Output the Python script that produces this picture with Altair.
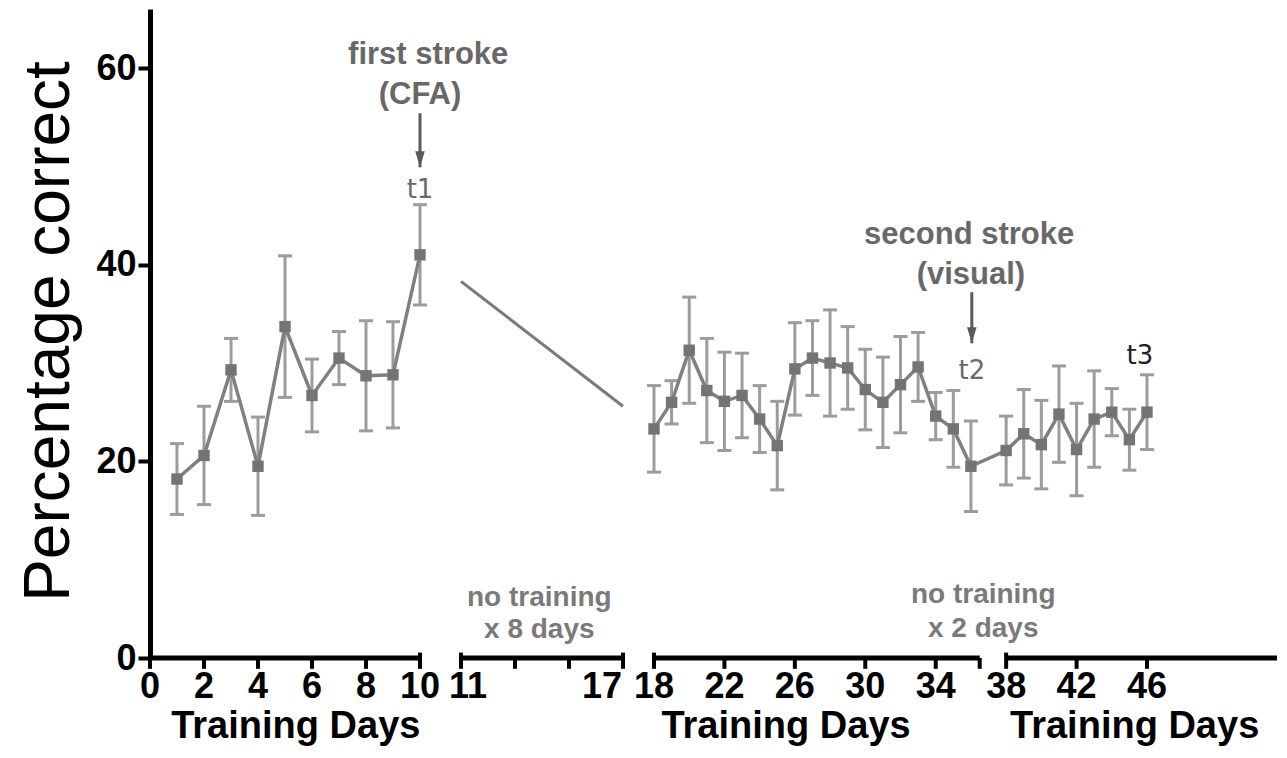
import altair as alt
import pandas as pd

# ---------------- data ----------------
days = [1, 2, 3, 4, 5, 6, 7, 8, 9, 10,
        18, 19, 20, 21, 22, 23, 24, 25, 26, 27, 28, 29, 30, 31, 32, 33, 34, 35, 36,
        38, 39, 40, 41, 42, 43, 44, 45, 46]
pct = [18.2, 20.6, 29.3, 19.5, 33.7, 26.7, 30.5, 28.7, 28.8, 41.0,
       23.3, 26.0, 31.3, 27.2, 26.1, 26.7, 24.3, 21.6, 29.4, 30.5, 30.0, 29.5, 27.3,
       26.0, 27.8, 29.6, 24.6, 23.3, 19.5,
       21.1, 22.8, 21.7, 24.8, 21.2, 24.3, 25.0, 22.2, 25.0]
sem = [3.6, 5.0, 3.2, 5.0, 7.2, 3.7, 2.7, 5.6, 5.4, 5.1,
       4.4, 2.2, 5.4, 5.3, 5.0, 4.3, 3.4, 4.5, 4.7, 3.8, 5.4, 4.2, 4.1,
       4.6, 4.9, 3.5, 2.4, 3.9, 4.6,
       3.5, 4.5, 4.5, 4.9, 4.7, 4.9, 2.4, 3.1, 3.8]

# decorative trend line across the 8-day break
gap_days = [11, 17]
gap_pct = [38.3, 25.6]

# broken x axis
seg_start = [0, 11, 18]
seg_end = [10, 17, 36.5]
last_seg_start = 38
tick_days = [0, 2, 4, 6, 8, 10, 11, 13, 15, 17, 18, 22, 26, 30, 34, 36.5, 38, 42, 46]
cap_days = [10, 11, 17, 18, 38]
label_days = [0, 2, 4, 6, 8, 10, 18, 22, 26, 30, 34, 38, 42, 46]
label_11 = [11]
label_17 = [17]
title_days = [5.4, 25.5, 45.3]
title_text = ["Training Days", "Training Days", "Training Days"]

# annotations
stroke_text = ["first stroke", "(CFA)", "second stroke", "(visual)"]
stroke_day = [10.2, 10.0, 35.9, 36.0]
stroke_pct = [61.3, 57.3, 43.0, 39.0]
note_text = ["no training", "x 8 days", "no training", "x 2 days"]
note_day = [13.9, 13.9, 36.7, 36.7]
note_pct = [6.1, 2.8, 6.4, 2.9]
t_text = ["t1", "t2", "t3"]
t_day = [10.0, 36.05, 45.6]
t_pct = [47.6, 29.2, 30.7]
t_color = ["#6a6a6a", "#6a6a6a", "#222222"]
arrow_day = [10.0, 36.05]
arrow_top = [55.4, 37.2]
arrow_tip = [49.9, 32.0]

# ---------------- tables ----------------
df = pd.DataFrame({"day": days, "pct": pct, "sem": sem})
df["lo"] = df["pct"] - df["sem"]
df["hi"] = df["pct"] + df["sem"]
df["seg"] = ["a" if d <= 10 else "b" for d in days]
gap_df = pd.DataFrame({"day": gap_days, "pct": gap_pct})
seg_df = pd.DataFrame({"s": seg_start, "e": seg_end})
tick_df = pd.DataFrame({"day": tick_days})
cap_df = pd.DataFrame({"day": cap_days})
lab_df = pd.DataFrame({"day": label_days, "txt": [str(d) for d in label_days]})
lab11_df = pd.DataFrame({"day": label_11, "txt": [str(d) for d in label_11]})
lab17_df = pd.DataFrame({"day": label_17, "txt": [str(d) for d in label_17]})
ttl_df = pd.DataFrame({"day": title_days, "txt": title_text})
stroke_df = pd.DataFrame({"day": stroke_day, "pct": stroke_pct, "txt": stroke_text})
note_df = pd.DataFrame({"day": note_day, "pct": note_pct, "txt": note_text})
t_df = pd.DataFrame({"day": t_day, "pct": t_pct, "txt": t_text, "col": t_color})
arr_df = pd.DataFrame({"day": arrow_day, "top": arrow_top, "tip": arrow_tip})

FONT = "Liberation Sans"
xs = alt.Scale(domain=[0, 10, 11, 17, 18, 46], range=[0, 270, 311, 473, 504, 997],
               nice=False, zero=False)
ys = alt.Scale(domain=[0, 66], nice=False, zero=False)
yax = alt.Axis(values=[0, 20, 40, 60], title="Percentage correct", grid=False,
               domainColor="black", domainWidth=5, tickColor="black", tickWidth=4,
               tickSize=12, labelFont=FONT, labelFontSize=36, labelFontWeight="bold",
               labelColor="black", labelPadding=2, titleFont=FONT, titleFontSize=64,
               titleFontWeight="normal", titleColor="black", titleX=-69, titleY=322)


def X(f):
    return alt.X(f, type="quantitative", scale=xs, axis=None)


def Y(f):
    return alt.Y(f, type="quantitative", scale=ys, axis=yax)


def Yd(v):
    return alt.YDatum(v, scale=ys, axis=yax)


base = alt.Chart(df)

err = base.mark_rule(color="#9c9c9c", strokeWidth=3).encode(x=X("day"), y=Y("lo"), y2="hi")
cap_lo = base.mark_point(shape="M-1,0L1,0", filled=False, color="#9c9c9c",
                         strokeWidth=3, size=196, opacity=1).encode(x=X("day"), y=Y("lo"))
cap_hi = base.mark_point(shape="M-1,0L1,0", filled=False, color="#9c9c9c",
                         strokeWidth=3, size=196, opacity=1).encode(x=X("day"), y=Y("hi"))
line = base.mark_line(color="#808080", strokeWidth=3.5).encode(
    x=X("day"), y=Y("pct"), detail="seg:N")
pts = base.mark_square(color="#747474", size=130, opacity=1).encode(x=X("day"), y=Y("pct"))
gap = alt.Chart(gap_df).mark_line(color="#7a7a7a", strokeWidth=3).encode(
    x=X("day"), y=Y("pct"))

# x axis pieces
axis_segs = alt.Chart(seg_df).mark_rule(color="black", strokeWidth=5).encode(
    x=X("s"), x2="e", y=Yd(0))
last_seg = alt.Chart(pd.DataFrame({"s": [last_seg_start]})).mark_rule(
    color="black", strokeWidth=5).encode(x=X("s"), x2=alt.value("width"), y=Yd(0))
ticks = alt.Chart(tick_df).mark_rule(color="black", strokeWidth=4).encode(
    x=X("day"), y=Yd(0), y2=alt.Y2Datum(-1.1))
caps = alt.Chart(cap_df).mark_rule(color="black", strokeWidth=4).encode(
    x=X("day"), y=Yd(0.55), y2=alt.Y2Datum(0))
labs = alt.Chart(lab_df).mark_text(font=FONT, fontSize=36, fontWeight="bold",
                                   color="black", baseline="middle", align="center").encode(
    x=X("day"), y=Yd(-2.9), text="txt:N")
labs11 = alt.Chart(lab11_df).mark_text(font=FONT, fontSize=36, fontWeight="bold",
                                       color="black", baseline="middle", align="center",
                                       dx=7).encode(
    x=X("day"), y=Yd(-2.9), text="txt:N")
labs17 = alt.Chart(lab17_df).mark_text(font=FONT, fontSize=36, fontWeight="bold",
                                       color="black", baseline="middle", align="right",
                                       dx=-1).encode(
    x=X("day"), y=Yd(-2.9), text="txt:N")
titles = alt.Chart(ttl_df).mark_text(font=FONT, fontSize=38, fontWeight="bold",
                                     color="black", baseline="middle", align="center").encode(
    x=X("day"), y=Yd(-7.05), text="txt:N")

# annotations
strokes = alt.Chart(stroke_df).mark_text(font=FONT, fontSize=31, fontWeight="bold",
                                         color="#686868", baseline="middle").encode(
    x=X("day"), y=Y("pct"), text="txt:N")
notes = alt.Chart(note_df).mark_text(font=FONT, fontSize=28, fontWeight="bold",
                                     color="#7a7a7a", baseline="middle").encode(
    x=X("day"), y=Y("pct"), text="txt:N")
tlabs = alt.Chart(t_df).mark_text(font="DejaVu Sans", fontSize=26, baseline="middle").encode(
    x=X("day"), y=Y("pct"), text="txt:N", color=alt.Color("col:N", scale=None))
arr_line = alt.Chart(arr_df).mark_rule(color="#5a5a5a", strokeWidth=3).encode(
    x=X("day"), y=Y("top"), y2="tip")
arr_head = alt.Chart(arr_df).mark_point(shape="M-0.6,-2L0.6,-2L0,0Z", filled=True,
                                        color="#5a5a5a", size=256, opacity=1).encode(
    x=X("day"), y=Y("tip"))

chart = alt.layer(
    err, cap_lo, cap_hi, gap, line, pts,
    axis_segs, last_seg, ticks, caps, labs, labs11, labs17, titles,
    strokes, notes, tlabs, arr_line, arr_head,
).properties(
    width=1127, height=649,
    autosize=alt.AutoSizeParams(type="none"),
    padding={"left": 142, "top": 1, "right": 0, "bottom": 91},
).configure(background="white").configure_view(stroke=None)

chart.save("out.html", embed_options={"renderer": "svg", "actions": False})
